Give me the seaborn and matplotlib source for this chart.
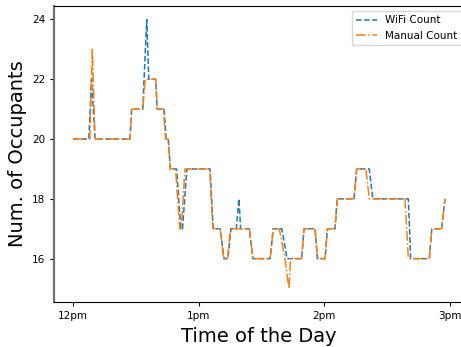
import numpy as np
import pandas as pd
import matplotlib
matplotlib.use('Agg')
import matplotlib.pyplot as plt
import seaborn as sns

# ---------------------------------------------------------------
# Data (minutes after 12pm, occupant counts)
# ---------------------------------------------------------------
wifi_t = [0, 7.5, 8.8, 10.5, 27.2, 28, 33.3, 35.2, 36.2, 39.5, 40.2, 43.5,
          44.5, 45.5, 46.5, 49.5, 51.5, 52.3, 54.4, 65.5, 67, 70.3, 72.2, 74,
          75.5, 78, 79.3, 80.1, 84.3, 85.9, 94.2, 95.7, 99.8, 102.3, 109.3, 110.4,
          115.7, 116.8, 120.5, 121.6, 125.2, 126.3, 134.3, 135.6, 141.6, 143.3,
          160.3, 161.4, 170.3, 171.5, 176.2, 177.8]
wifi_n = [20, 20, 22, 20, 20, 21, 21, 24, 22, 22, 21, 21,
          20, 20, 19, 19, 17, 17, 19, 19, 17, 17, 16, 16,
          17, 17, 18, 17, 17, 16, 16, 17, 17, 16, 16, 17,
          17, 16, 16, 17, 17, 18, 18, 19, 19, 18,
          18, 16, 16, 17, 17, 18]

manual_t = [0, 8, 9.2, 10.5, 27.2, 28, 33.3, 34.5, 39.5, 40.2, 43.2, 44.2,
            45.5, 46.5, 49, 51, 51.7, 53.5, 65.3, 66.8, 70.3, 72, 73.8, 75.2,
            84.3, 85.9, 94.2, 95.7, 98.6, 101.3, 103.2, 104, 109.3, 110.4, 115.7, 116.8,
            120.5, 121.6, 125.2, 126.3, 134.3, 135.6, 140, 141.6, 158.7, 160.3,
            170.3, 171.5, 176.2, 177.8]
manual_n = [20, 20, 23, 20, 20, 21, 21, 22, 22, 21, 21, 20,
            20, 19, 19, 17, 17, 19, 19, 17, 17, 16, 16, 17,
            17, 16, 16, 17, 17, 16, 15, 16, 16, 17, 17, 16,
            16, 17, 17, 18, 18, 19, 19, 18, 18, 16,
            16, 17, 17, 18]

tick_pos = [0, 60, 120, 180]
tick_labels = ['12pm', '1pm', '2pm', '3pm']

# ---------------------------------------------------------------
# Plot
# ---------------------------------------------------------------
fig = plt.figure(figsize=(4.61, 3.47), dpi=100)
ax = fig.add_axes([0.1182, 0.1297, 0.8874, 0.853])

sns.lineplot(x=wifi_t, y=wifi_n, ax=ax, sort=False, estimator=None,
             color='tab:blue', linestyle='--', linewidth=1.1, label='WiFi Count')
sns.lineplot(x=manual_t, y=manual_n, ax=ax, sort=False, estimator=None,
             color='tab:orange', linestyle='-.', linewidth=1.1, label='Manual Count')

ax.set_xlim(-8.9, 186.7)
ax.set_ylim(14.55, 24.45)
ax.set_xticks(tick_pos)
ax.set_xticklabels(tick_labels)
ax.set_yticks([16, 18, 20, 22, 24])
ax.tick_params(labelsize=7.5, length=3)

ax.set_xlabel('Time of the Day', fontsize=14)
ax.set_ylabel('Num. of Occupants', fontsize=14)

ax.spines['left'].set_color('#707070')
ax.spines['left'].set_linewidth(1.6)

ax.legend(loc='upper right', fontsize=7.5, bbox_to_anchor=(1.008, 1.0))

fig.savefig('out.png', dpi=100)
